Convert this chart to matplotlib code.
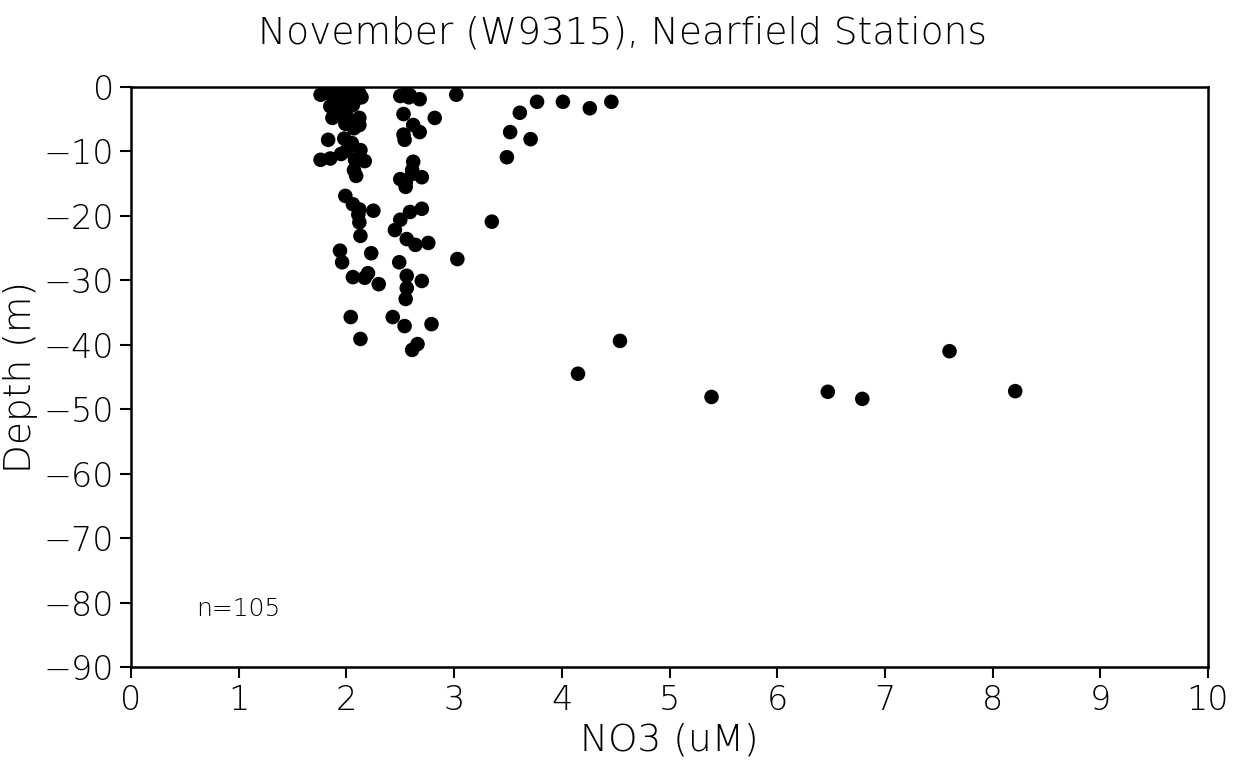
import matplotlib
matplotlib.use("Agg")
import matplotlib.pyplot as plt

# NO3 concentration (uM) and sample depth (m) for nearfield stations
no3 = [
    1.76, 1.84, 1.93, 2.01, 2.06, 2.10, 2.14, 1.97, 1.85, 1.94,
    2.06, 2.01, 1.87, 2.12, 1.99, 2.07, 2.12, 1.83, 1.98, 2.05,
    1.76, 1.85, 1.95, 2.00, 2.13, 2.08, 2.17, 2.07, 2.09, 1.99,
    2.06, 2.12, 2.25, 2.11, 2.12, 2.13, 1.94, 2.23, 1.96, 2.06,
    2.20, 2.17, 2.30, 2.04, 2.13,
    2.54, 2.59, 2.56, 2.68, 2.53, 2.82, 2.62, 2.68, 2.53, 2.54,
    2.62, 2.61, 2.50, 2.61, 2.70, 2.55, 2.59, 2.70, 2.50, 2.45,
    2.56, 2.64, 2.76, 2.49, 2.56, 2.70, 2.56, 2.55, 2.43, 2.54,
    2.79, 2.61, 2.66, 2.55,
    3.03, 3.02, 3.77, 4.01, 4.26, 4.46, 3.61, 3.52, 3.71, 3.49,
    3.35,
    4.15, 4.54, 5.39, 6.47, 6.79, 7.60, 8.21,
    2.03, 1.90, 2.08, 2.58, 2.50, 2.12, 1.96, 2.04,
]
depth = [
    -1.2, -1.0, -1.2, -1.0, -1.2, -1.4, -1.6, -1.8, -3.0, -2.3,
    -2.8, -3.3, -4.8, -4.8, -5.7, -6.4, -5.9, -8.2, -8.0, -8.7,
    -11.3, -11.1, -10.4, -9.9, -9.8, -11.3, -11.5, -12.9, -13.8, -16.9,
    -18.2, -19.0, -19.2, -19.8, -21.0, -23.1, -25.4, -25.8, -27.2, -29.5,
    -28.9, -29.6, -30.6, -35.7, -39.1,
    -1.2, -1.3, -1.0, -1.9, -4.2, -4.8, -5.9, -7.0, -7.4, -8.2,
    -11.6, -12.9, -14.3, -13.5, -14.0, -15.5, -19.4, -18.9, -20.6, -22.2,
    -23.6, -24.5, -24.2, -27.2, -29.3, -30.1, -31.2, -32.9, -35.7, -37.1,
    -36.8, -40.8, -39.9, -14.8,
    -26.7, -1.2, -2.3, -2.3, -3.3, -2.3, -4.0, -7.0, -8.1, -10.9,
    -20.9,
    -44.5, -39.4, -48.1, -47.3, -48.4, -41.0, -47.2,
    -1.5, -1.3, -2.0, -1.6, -1.4, -1.0, -4.0, -5.2,
]

x_ticks = list(range(0, 11))
y_ticks = list(range(-90, 1, 10))

plt.rcParams["font.family"] = ["DejaVu Sans"]
plt.rcParams["font.weight"] = "light"

fig = plt.figure(figsize=(12.41, 7.67), dpi=100)
ax = fig.add_axes([0.1056, 0.1304, 0.8678, 0.7562])

ax.scatter(no3, depth, s=110, color="black", edgecolors="none", zorder=3)

ax.set_xlim(0, 10)
ax.set_ylim(-90, 0)
ax.set_xticks(x_ticks)
ax.set_yticks(y_ticks)
ax.tick_params(direction="out", length=8, width=1.5, labelsize=24, pad=4)
for sp in ax.spines.values():
    sp.set_linewidth(1.8)

ax.set_xlabel("NO3 (uM)", fontsize=27, labelpad=4, fontweight="light")
ax.set_ylabel("Depth (m)", fontsize=27, labelpad=4, fontweight="light")
fig.suptitle("November (W9315), Nearfield Stations", x=0.502, y=0.957,
             fontsize=27, va="center", fontweight="light")

ax.text(0.6, -81, "n=105", fontsize=18, ha="left", va="center")

fig.savefig("out.png", dpi=100, facecolor="white")
